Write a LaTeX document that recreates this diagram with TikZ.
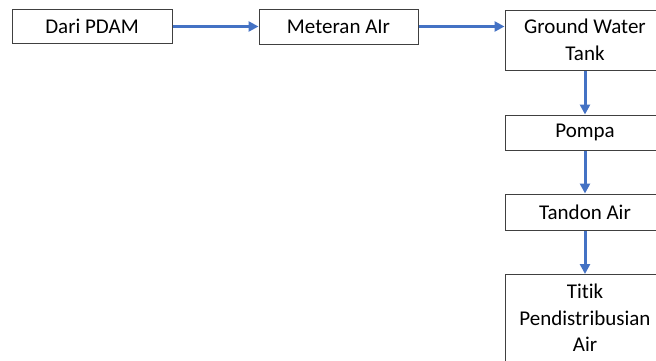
\documentclass[tikz,border=0pt]{standalone}
\usepackage{fontspec}
\setmainfont[Ligatures=NoCommon]{Carlito}
\usetikzlibrary{arrows.meta}
\definecolor{flowblue}{HTML}{4472C4}
\definecolor{boxline}{HTML}{404040}
\begin{document}
\begin{tikzpicture}[x=1pt,y=1pt,
  boxfont/.style={font=\fontsize{21}{26.5}\selectfont},
  stepbox/.style={draw=boxline,line width=1pt,fill=white,inner sep=0pt,align=center,boxfont},
  flow/.style={draw=flowblue,line width=3pt,-{Triangle[length=10pt,width=10pt]}}]
\useasboundingbox (0,0) rectangle (656,360);
\clip (0,0) rectangle (656,360);
\node[stepbox,minimum width=160pt,minimum height=34pt] (pdam) at (92,333.5) {Dari PDAM};
\node[stepbox,minimum width=159pt,minimum height=35pt] (meter) at (338.5,333.5) {Meteran AIr};
\node[stepbox,minimum width=160pt,minimum height=60pt] (gwt) at (585,320) {Ground Water\\Tank};
\node[stepbox,minimum width=160pt,minimum height=35pt] (pompa) at (585,227.5) {Pompa};
\node[stepbox,minimum width=160pt,minimum height=36pt] (tandon) at (585,148) {Tandon Air};
\node[stepbox,minimum width=160pt,minimum height=98pt,anchor=north] (titik) at (585,86) {};
\node[boxfont,align=center,anchor=north,inner sep=0pt] (titiktext) at (585,76) {Titik\\Pendistribusian\\Air};
\draw[flow] (pdam.east) -- (meter.west);
\draw[flow] (meter.east) -- (meter.east -| gwt.west);
\draw[flow] (gwt.south) -- (pompa.north);
\draw[flow] (pompa.south) -- (tandon.north);
\draw[flow] (tandon.south) -- (titik.north);
\end{tikzpicture}
\end{document}
